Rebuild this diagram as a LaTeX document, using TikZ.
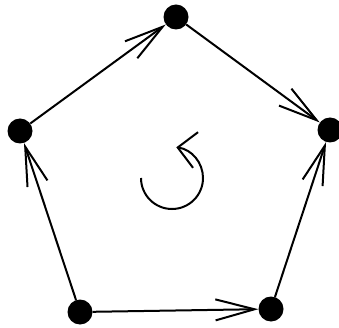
\documentclass[tikz,border=0pt]{standalone}
\usetikzlibrary{arrows.meta}
\begin{document}
\begin{tikzpicture}[x=1pt,y=1pt,
  vert/.style={circle,fill=black,inner sep=0pt,minimum size=25pt},
  edge/.style={line width=2pt,-{Straight Barb[length=39pt,width=21pt]}},
  rot/.style={line width=2pt,-{Straight Barb[length=18pt,width=36pt]}}]
\useasboundingbox (0,0) rectangle (339,-328);
\node[vert] (T) at (176,-17) {};
\node[vert] (R) at (330,-130) {};
\node[vert] (BR) at (271,-309) {};
\node[vert] (BL) at (80,-312) {};
\node[vert] (L) at (20,-131) {};
\draw[edge] (BL) -- (L);
\draw[edge] (L) -- (T);
\draw[edge] (T) -- (R);
\draw[edge] (BR) -- (R);
\draw[edge] (BL) -- (BR);
\coordinate (c) at (172,-178);
\draw[rot] ([shift={(180:31)}]c) arc[start angle=180,end angle=442,radius=31];
\end{tikzpicture}
\end{document}
